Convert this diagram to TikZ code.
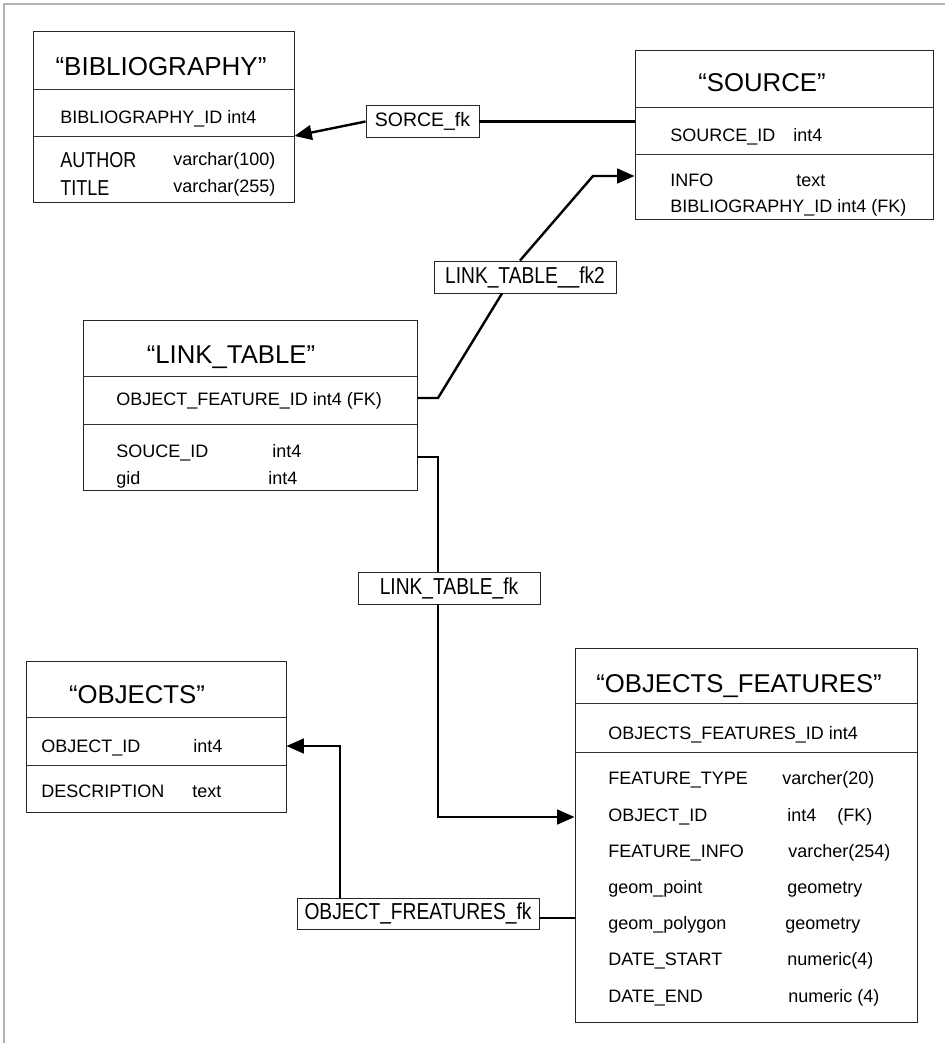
\documentclass[tikz,border=0pt]{standalone}
\usepackage{fontspec}
\setmainfont{Liberation Sans}
\usetikzlibrary{arrows.meta,fit}

\newcommand{\tall}[1]{\scalebox{1}[1.2]{#1}}

\begin{document}
\begin{tikzpicture}[x=0.75pt, y=-0.75pt,
  tbl/.style={draw=black!85, line width=0.7pt, inner sep=0pt},
  sep/.style={draw=black!80, line width=0.7pt},
  ttl/.style={anchor=base, inner sep=0pt, font=\fontsize{19.3}{22}\selectfont},
  fld/.style={anchor=base west, inner sep=0pt, font=\fontsize{13.5}{16}\selectfont},
  fkbox/.style={draw=black!85, fill=white, line width=0.7pt, inner sep=0pt, font=\fontsize{14.4}{17}\selectfont},
  rel/.style={line width=1.8pt, -{Triangle[length=13pt,width=11pt]}},
  bare/.style={line width=1.8pt}]
	\useasboundingbox (0,0) rectangle (945,1043);
	\draw[color=gray!60, line width=0.8pt] (4,1043) -- (4,4) -- (945,4);

	\node[tbl, fit={(33,31) (294,202)}] (bib) {};
	\draw[sep] (bib.west |- 0,89) -- (bib.east |- 0,89);
	\draw[sep] (bib.west |- 0,136) -- (bib.east |- 0,136);
	\node[ttl, font=\fontsize{19.5}{22}\selectfont] (bibttl) at (161,75) {“BIBLIOGRAPHY”};
	\node[fld] (bibid) at (60,123) {BIBLIOGRAPHY\_ID int4};
	\node[fld] (bibau) at (60,167) {\tall{AUTHOR}};
	\node[fld] (bibaut) at (173,165) {varchar(100)};
	\node[fld] (bibti) at (60,195) {\tall{TITLE}};
	\node[fld] (bibtit) at (173,192) {varchar(255)};

	\node[tbl, fit={(635,50) (933,219)}] (source) {};
	\draw[sep] (source.west |- 0,107) -- (source.east |- 0,107);
	\draw[sep] (source.west |- 0,154) -- (source.east |- 0,154);
	\node[ttl] (srcttl) at (762,91) {“SOURCE”};
	\node[fld] (srcid) at (670,141) {SOURCE\_ID};
	\node[fld] (srcidt) at (793,141) {int4};
	\node[fld] (srcinfo) at (670,186) {INFO};
	\node[fld] (srcinfot) at (796,186) {text};
	\node[fld] (srcbib) at (670,212.5) {BIBLIOGRAPHY\_ID int4 (FK)};

	\node[tbl, fit={(83,320) (417,490)}] (link) {};
	\draw[sep] (link.west |- 0,376) -- (link.east |- 0,376);
	\draw[sep] (link.west |- 0,424) -- (link.east |- 0,424);
	\node[ttl] (lnkttl) at (231,363) {“LINK\_TABLE”};
	\node[fld] (lnkof) at (116,405) {OBJECT\_FEATURE\_ID int4 (FK)};
	\node[fld] (lnksrc) at (116,457) {SOUCE\_ID};
	\node[fld] (lnksrct) at (272,457) {int4};
	\node[fld] (lnkgid) at (116,484) {gid};
	\node[fld] (lnkgidt) at (268,484) {int4};

	\node[tbl, fit={(26,661) (286,812)}] (objects) {};
	\draw[sep] (objects.west |- 0,717) -- (objects.east |- 0,717);
	\draw[sep] (objects.west |- 0,765) -- (objects.east |- 0,765);
	\node[ttl] (objttl) at (137,703) {“OBJECTS”};
	\node[fld] (objid) at (41,752) {OBJECT\_ID};
	\node[fld] (objidt) at (193,752) {int4};
	\node[fld] (objds) at (41,797) {DESCRIPTION};
	\node[fld] (objdst) at (192,797) {text};

	\node[tbl, fit={(575,648) (917,1022)}] (of) {};
	\draw[sep] (of.west |- 0,703) -- (of.east |- 0,703);
	\draw[sep] (of.west |- 0,752) -- (of.east |- 0,752);
	\node[ttl] (ofttl) at (739,692) {“OBJECTS\_FEATURES”};
	\node[fld] (ofid) at (608,739) {OBJECTS\_FEATURES\_ID int4};
	\node[fld] (oftype) at (608,784) {FEATURE\_TYPE};
	\node[fld] (oftypet) at (782,784) {varcher(20)};
	\node[fld] (ofobj) at (608,821) {OBJECT\_ID};
	\node[fld] (ofobjt) at (787,821) {int4};
	\node[fld] (ofobjfk) at (837,821) {(FK)};
	\node[fld] (ofinfo) at (608,857) {FEATURE\_INFO};
	\node[fld] (ofinfot) at (788,857) {varcher(254)};
	\node[fld] (ofpt) at (608,893) {geom\_point};
	\node[fld] (ofptt) at (787,893) {geometry};
	\node[fld] (ofpg) at (608,929) {geom\_polygon};
	\node[fld] (ofpgt) at (785,929) {geometry};
	\node[fld] (ofds) at (608,965) {DATE\_START};
	\node[fld] (ofdst) at (787,965) {numeric(4)};
	\node[fld] (ofde) at (608,1002) {DATE\_END};
	\node[fld] (ofdet) at (788,1002) {numeric (4)};

	\node[fkbox, minimum width=84.75pt, minimum height=24pt, font=\fontsize{14.6}{17}\selectfont] (sorcefk) at (422.5,121.5) {SORCE\_fk};
	\node[fkbox, minimum width=136.5pt, minimum height=24pt] (fktwo) at (525,277) {\tall{LINK\_TABLE\_\_fk2}};
	\node[fkbox, minimum width=136.5pt, minimum height=24pt] (lnkfk) at (449,588) {\tall{LINK\_TABLE\_fk}};
	\node[fkbox, minimum width=181.5pt, minimum height=23.25pt] (objfk) at (418,913.5) {\tall{OBJECT\_FREATURES\_fk}};

	\draw[bare] (source.west |- sorcefk.east) -- (sorcefk.east);
	\draw[rel] (sorcefk.west) -- (bib.east |- 0,136);
	\draw[bare] (link.east |- 0,398) -- (438,398) -- (fktwo.south -| 502,0);
	\draw[rel] (fktwo.north -| 520,0) -- (593,176) -- (source.west |- 0,176);
	\draw[bare] (link.east |- 0,457) -- (438,457) -- (lnkfk.north -| 438,0);
	\draw[rel] (lnkfk.south -| 438,0) -- (438,817) -- (of.west |- 0,817);
	\draw[bare] (of.west |- 0,918) -- (objfk.east |- 0,918);
	\draw[rel] (objfk.north -| 340,0) -- (340,746) -- (objects.east |- 0,746);
\end{tikzpicture}
\end{document}
